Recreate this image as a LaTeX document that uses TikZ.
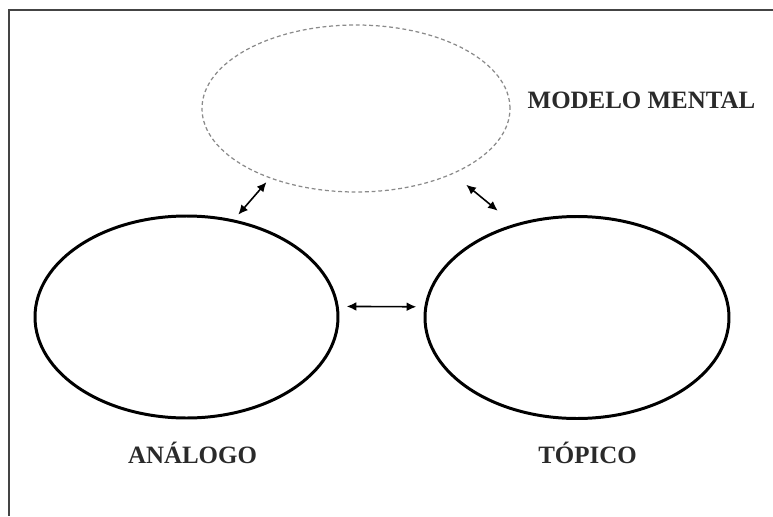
\documentclass[tikz,border=0pt]{standalone}
\usepackage{fontspec}
\setmainfont{Liberation Serif}
\usepackage{tikz}
\usetikzlibrary{arrows.meta,positioning,shapes.geometric}
\definecolor{mmframe}{HTML}{444444}
\definecolor{mmdash}{HTML}{8A8A8A}
\definecolor{mmtext}{HTML}{2A2A2A}
\tikzset{
  field/.style={ellipse, draw, line width=1.7pt, inner sep=0pt},
  mental/.style={ellipse, draw=mmdash, dashed, line width=0.7pt,
    dash pattern=on 2.2pt off 1.6pt, inner sep=0pt},
  lbl/.style={font=\bfseries\fontsize{14.2}{16}\selectfont, text=mmtext, inner sep=0pt},
  link/.style={{Latex[length=5.5pt,width=5pt]}-{Latex[length=5.5pt,width=5pt]}, line width=0.9pt}
}
\begin{document}
\begin{tikzpicture}
  \useasboundingbox (0,0) rectangle (15.46,10.32);
  % frame
  \draw[mmframe, line width=1.1pt] (15.46,10.12) -- (0.18,10.12) -- (0.18,0);
  % the three models
  \node[mental, minimum width=6.16cm, minimum height=3.34cm] (mm) at (7.12,8.15) {};
  \node[field, minimum width=6.06cm, minimum height=4.04cm] (ana) at (3.73,3.98) {};
  \node[field, minimum width=6.08cm, minimum height=4.04cm] (top) at (11.54,3.97) {};
  % labels
  \node[lbl] (mmlbl) at (12.83,8.32) {MODELO MENTAL};
  \node[lbl] (analbl) at (3.85,1.26) {ANÁLOGO};
  \node[lbl] (toplbl) at (11.75,1.26) {TÓPICO};
  % mappings
  \draw[link, shorten <=0.16cm, shorten >=0.16cm] (ana.4) -- (top.176);
  \draw[link, shorten <=0.13cm, shorten >=0.1cm] (ana.64) -- (mm.219);
  \draw[link, shorten <=0.34cm, shorten >=0.42cm] (mm.-34) -- (top.124);
\end{tikzpicture}
\end{document}
